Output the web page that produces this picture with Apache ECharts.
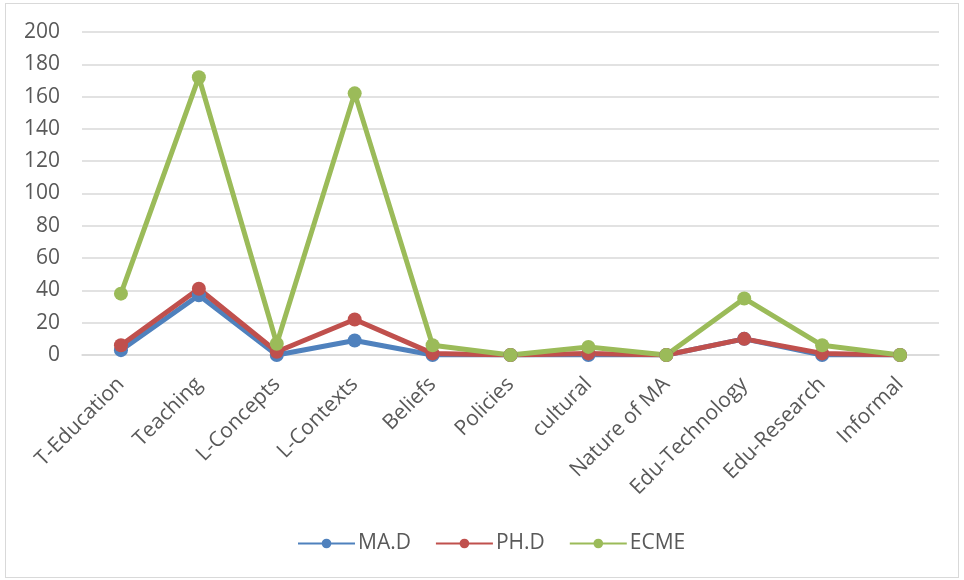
<!DOCTYPE html>
<html>
<head>
    <meta charset="utf-8">
    <script src="https://cdn.jsdelivr.net/npm/echarts@6.0.0/dist/echarts.min.js"></script>
    <style>
        body { margin: 0; background: #fff; }
        #frame { position: absolute; left: 5px; top: 3px; width: 952px; height: 573px; border: 1px solid #d9d9d9; }
        #main { position: absolute; left: 0; top: 0; width: 964px; height: 580px; }
    </style>
</head>
<body>
    <div id="frame"></div>
    <div id="main"></div>
    <script>
        var categories = ['T-Education', 'Teaching', 'L-Concepts', 'L-Contexts', 'Beliefs', 'Policies',
            'cultural', 'Nature of MA', 'Edu-Technology', 'Edu-Research', 'Informal'];
        var maD = [3, 37, 0, 9, 0, 0, 0, 0, 10, 0, 0];
        var phD = [6, 41, 2, 22, 1, 0, 1, 0, 10, 1, 0];
        var ecme = [38, 172, 7, 162, 6, 0, 5, 0, 35, 6, 0];
        var yTicks = [0, 20, 40, 60, 80, 100, 120, 140, 160, 180, 200];

        var font = 'Open Sans';

        function line(name, data, color) {
            return {
                name: name,
                type: 'line',
                data: data,
                symbol: 'circle',
                symbolSize: 14,
                lineStyle: { width: 5, color: color },
                itemStyle: { color: color },
                emphasis: { disabled: true }
            };
        }

        var chart = echarts.init(document.getElementById('main'));
        chart.setOption({
            animation: false,
            grid: { left: 82, right: 25, top: 32, bottom: 225, outerBoundsMode: 'none' },
            legend: {
                top: 528,
                left: 292,
                itemWidth: 57,
                itemHeight: 12,
                itemGap: 24,
                textStyle: { color: '#595959', fontSize: 21, fontFamily: font, padding: [0, 0, 0, -2] },
                data: ['MA.D', 'PH.D', 'ECME']
            },
            xAxis: {
                type: 'category',
                data: categories,
                boundaryGap: true,
                axisLine: { lineStyle: { color: '#d9d9d9', width: 1.5 } },
                axisTick: { show: false },
                axisLabel: { rotate: 45, color: '#595959', fontSize: 21, fontFamily: font, margin: 26, interval: 0 }
            },
            yAxis: {
                type: 'value',
                min: yTicks[0],
                max: yTicks[yTicks.length - 1],
                interval: 20,
                axisLine: { show: false },
                axisTick: { show: false },
                splitLine: { lineStyle: { color: '#d9d9d9', width: 1.5 } },
                axisLabel: { color: '#595959', fontSize: 21, fontFamily: font, margin: 22 }
            },
            series: [
                line('MA.D', maD, '#4f81bd'),
                line('PH.D', phD, '#c0504d'),
                line('ECME', ecme, '#9bbb59')
            ]
        });
    </script>
</body>
</html>
